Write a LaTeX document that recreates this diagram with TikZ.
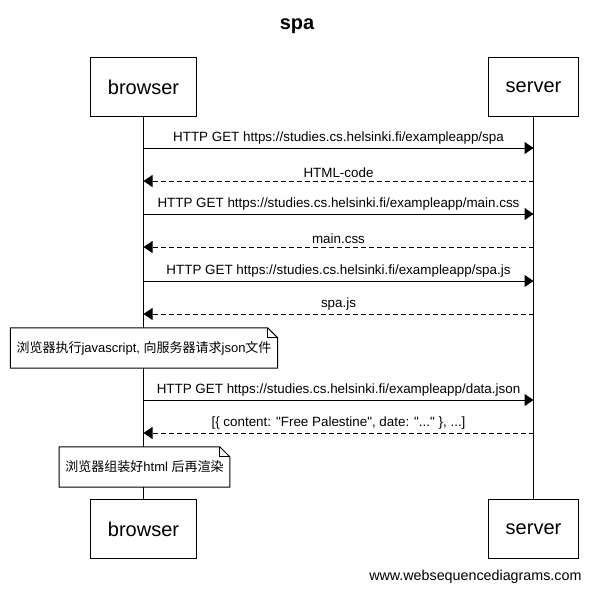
\documentclass[tikz,border=0pt]{standalone}
\usepackage{fontspec}
\setmainfont{Liberation Sans}[Ligatures=TeXOff]
\newfontfamily\cjk{Noto Sans CJK SC}
\usetikzlibrary{arrows.meta}
\tikzset{
  actor/.style={draw,line width=1pt,minimum height=59pt,inner xsep=17pt,font=\fontsize{20}{24}\selectfont},
  msg/.style={line width=1pt,-{Triangle[length=9pt,width=12pt]}},
  reply/.style={msg,dash pattern=on 5pt off 3pt},
  msglabel/.style={above=0pt,font=\fontsize{13.4}{15}\selectfont},
  note/.style={fill=white,minimum height=40pt,inner xsep=6pt,font=\fontsize{13}{15}\selectfont}
}
% note outline with folded corner
\newcommand\foldnote[1]{
  \draw[line width=1pt] (#1.north west) -- ([xshift=-10pt]#1.north east) -- ([yshift=-10pt]#1.north east)
    -- (#1.south east) -- (#1.south west) -- cycle;
  \draw[line width=1pt] ([xshift=-10pt]#1.north east) |- ([yshift=-10pt]#1.north east);
}

\begin{document}
\begin{tikzpicture}[x=1pt,y=-1pt]
  \useasboundingbox (0,0) rectangle (593,590);
  \node[font=\bfseries\fontsize{20}{24}\selectfont] (title) at (297,26) {spa};

  \node[actor] (btop) at (143.5,87) {browser};
  \node[actor] (stop) at (533.5,87) {server};
  \node[actor] (bbot) at (143.5,529) {browser};
  \node[actor] (sbot) at (533.5,529) {server};

  \draw[line width=1pt] (btop) -- (bbot);
  \draw[line width=1pt] (stop) -- (sbot);

  \foreach \i/\y in {1/148,2/181,3/214,4/247,5/281,6/314,7/400,8/433} {
    \coordinate (b\i) at (btop.south |- 0,\y);
    \coordinate (s\i) at (stop.south |- 0,\y);
  }

  \draw[msg] (b1) -- node[msglabel] {HTTP GET https://studies.cs.helsinki.fi/exampleapp/spa} (s1);
  \draw[reply] (s2) -- node[msglabel] {HTML-code} (b2);
  \draw[msg] (b3) -- node[msglabel] {HTTP GET https://studies.cs.helsinki.fi/exampleapp/main.css} (s3);
  \draw[reply] (s4) -- node[msglabel] {main.css} (b4);
  \draw[msg] (b5) -- node[msglabel] {HTTP GET https://studies.cs.helsinki.fi/exampleapp/spa.js} (s5);
  \draw[reply] (s6) -- node[msglabel] {spa.js} (b6);

  \node[note] (n1) at (144,348) {{\cjk 浏览器执行}javascript, {\cjk 向服务器请求}json{\cjk 文件}};
  \foldnote{n1}

  \draw[msg] (b7) -- node[msglabel] {HTTP GET https://studies.cs.helsinki.fi/exampleapp/data.json} (s7);
  \draw[reply] (s8) -- node[msglabel] {[\{ content: "Free Palestine", date: "..." \}, ...]} (b8);

  \node[note] (n2) at (144.5,467) {{\cjk 浏览器组装好}html {\cjk 后再渲染}};
  \foldnote{n2}

  \node[anchor=east,font=\fontsize{14.3}{16}\selectfont] (footer) at (585,577) {www.websequencediagrams.com};
\end{tikzpicture}
\end{document}
